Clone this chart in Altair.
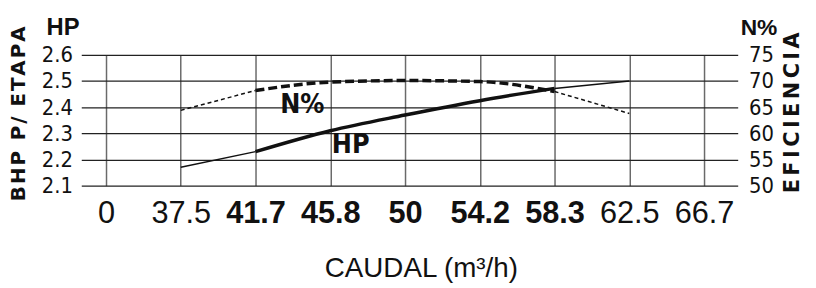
import json
import altair as alt
import pandas as pd

# ---- data ----
x_labels = ["0", "37.5", "41.7", "45.8", "50", "54.2", "58.3", "62.5", "66.7"]
bold_positions = [2, 3, 4, 5, 6]
curve_positions = [1, 2, 3, 4, 5, 6, 7]
hp_values = [2.17, 2.23, 2.31, 2.37, 2.425, 2.472, 2.50]
eff_values = [64.4, 68.2, 69.8, 70.1, 69.9, 68.0, 63.8]
hp_ticks = [2.1, 2.2, 2.3, 2.4, 2.5, 2.6]
eff_ticks = [50, 55, 60, 65, 70, 75]
ann_text = ["N%", "HP"]
ann_x = [2.33, 3.02]
ann_y = [2.376, 2.225]

df = pd.DataFrame({"pos": curve_positions, "hp": hp_values, "eff": eff_values})
seg_left = df[(df.pos >= 1) & (df.pos <= 2)]
seg_mid = df[(df.pos >= 2) & (df.pos <= 6)]
seg_right = df[(df.pos >= 6) & (df.pos <= 7)]
ann_df = pd.DataFrame({"pos": ann_x, "hp": ann_y, "t": ann_text})

NARROW = "Liberation Sans Narrow, DejaVu Sans Condensed, sans-serif"
REG = "Liberation Sans, Arial, sans-serif"
WIDE = "DejaVu Sans, sans-serif"

def spaced(s, sep="\u200a"):
    return sep.join(list(s))

left_title = spaced("BHP") + "\u200a \u200a" + spaced("P/") + "\u2002" + spaced("ETAPA")
right_title = spaced("EFICIENCIA", "\u2006")

bold_list = json.dumps(bold_positions)
x_axis = alt.Axis(
    values=list(range(len(x_labels))),
    labelExpr=f"{json.dumps(x_labels)}[round(datum.value)]",
    labelFontWeight=alt.expr(f"indexof({bold_list}, round(datum.value)) >= 0 ? 'bold' : 'normal'"),
    labelFont=REG, labelFontSize=31, labelColor="#111", labelPadding=13,
    grid=True, gridColor="#6a6a6a", gridWidth=1.5,
    ticks=False, domain=False,
    title="CAUDAL (m³/h)", titleFont=REG, titleFontSize=28, titleFontWeight="normal",
    titleColor="#111", titleX=343, titleY=92, titleBaseline="alphabetic", titleAnchor="middle",
)
x_enc = alt.X("pos:Q", scale=alt.Scale(domain=[-0.331, 8.45], nice=False, zero=False), axis=x_axis)

hp_axis = alt.Axis(
    values=hp_ticks, format=".1f", orient="left",
    labelFont=NARROW, labelFontSize=22, labelColor="#111", labelPadding=9,
    grid=True, gridColor="#222", gridWidth=1.2, ticks=False, domain=False,
    title=left_title, titleFont=WIDE, titleFontSize=20, titleFontWeight="bold", titleColor="#111",
    titleAngle=270, titleX=-57, titleY=59, titleAlign="center", titleBaseline="alphabetic",
)
hp_y = alt.Y("hp:Q", scale=alt.Scale(domain=[2.1, 2.6], nice=False, zero=False), axis=hp_axis)

eff_axis = alt.Axis(
    values=eff_ticks, orient="right",
    labelFont=NARROW, labelFontSize=22, labelColor="#111", labelPadding=11,
    grid=False, ticks=False, domain=False,
    title=right_title, titleFont=WIDE, titleFontSize=21, titleFontWeight="bold", titleColor="#111",
    titleAngle=270, titleX=61, titleY=58, titleAlign="center", titleBaseline="alphabetic",
)
eff_y = alt.Y("eff:Q", scale=alt.Scale(domain=[50, 75], nice=False, zero=False), axis=eff_axis)

def hp_line(d, w):
    return alt.Chart(d).mark_line(color="#111", strokeWidth=w, interpolate="monotone").encode(x=x_enc, y=hp_y)

def eff_line(d, w, dash):
    return alt.Chart(d).mark_line(color="#111", strokeWidth=w, strokeDash=dash, interpolate="monotone").encode(x=x_enc, y=eff_y)

ann = alt.Chart(ann_df).mark_text(
    font=NARROW, fontSize=27, fontWeight="bold", color="#111", align="left", baseline="alphabetic"
).encode(x=x_enc, y=hp_y, text="t:N")

top_left = alt.Chart(pd.DataFrame({"t": ["HP"]})).mark_text(
    font=REG, fontSize=24, fontWeight="bold", color="#111", align="left", baseline="alphabetic"
).encode(x=alt.value(-35), y=alt.value(-20), text="t:N")
top_right = alt.Chart(pd.DataFrame({"t": ["N%"]})).mark_text(
    font=REG, fontSize=23, fontWeight="bold", color="#111", align="left", baseline="alphabetic"
).encode(x=alt.value(666), y=alt.value(-20), text="t:N")

hp_layer = alt.layer(hp_line(seg_left, 1.5), hp_line(seg_mid, 3.5), hp_line(seg_right, 1.5), ann, top_left, top_right)
eff_layer = alt.layer(eff_line(seg_left, 1.5, [4, 3]), eff_line(seg_mid, 3.5, [9, 4]), eff_line(seg_right, 1.5, [4, 3]))

chart = alt.layer(hp_layer, eff_layer).resolve_scale(y="independent").properties(
    width=663, height=132, autosize="none",
    padding={"left": 74, "top": 46, "right": 71, "bottom": 102},
    background="white",
).configure_view(stroke=None)

chart.save("out.html", embed_options={"renderer": "svg", "actions": False})
